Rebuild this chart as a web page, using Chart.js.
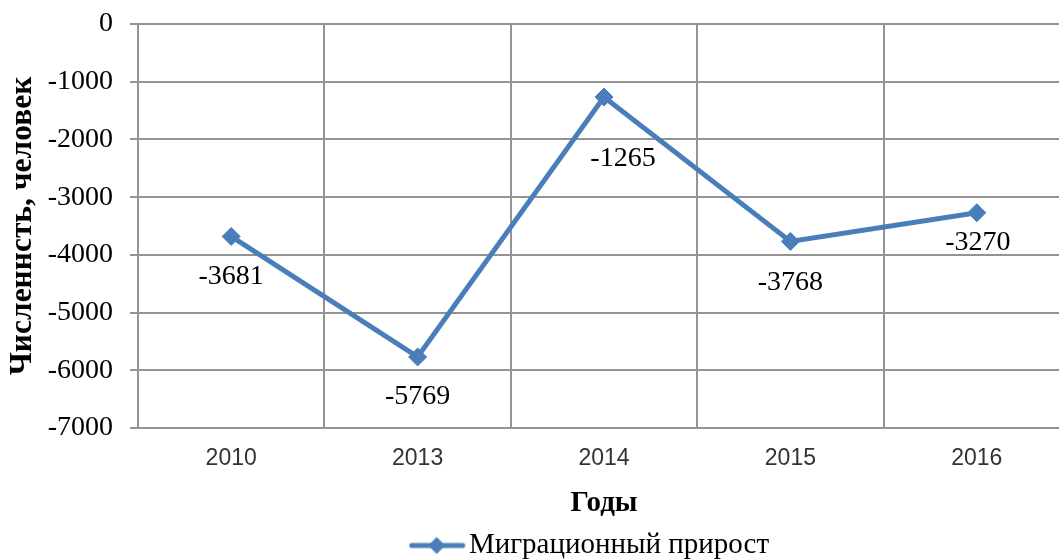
<!DOCTYPE html>
<html>
<head>
<meta charset="utf-8">
<script src="https://cdn.jsdelivr.net/npm/chart.js@4.4.1/dist/chart.umd.min.js"></script>
<style>
  html, body { margin: 0; padding: 0; background: #fff; overflow: hidden; }
  #wrap { position: relative; width: 1080px; height: 560px; }
</style>
</head>
<body>
<div id="wrap"><canvas id="chart" width="1080" height="560"></canvas></div>
<script>
const years = ["2010", "2013", "2014", "2015", "2016"];
const migration = [-3681, -5769, -1265, -3768, -3270];
const seriesName = "Миграционный прирост";
const yTitle = "Численнсть, человек";
const xTitle = "Годы";

// label nudges (dx, dy) from each point, px
const labelShift = [[0, 40], [0, 40], [19, 62], [0, 41], [1, 30]];

const blue = "#4a7ebb";
const gridColor = "#939393";
const serif = "'Liberation Serif', 'Times New Roman', serif";

// line + diamond image for the legend (symbol sits on the left of the image)
function legendSymbol() {
  const c = document.createElement("canvas");
  c.width = 76;
  c.height = 20;
  const g = c.getContext("2d");
  g.strokeStyle = blue;
  g.lineWidth = 5;
  g.lineCap = "round";
  g.beginPath();
  g.moveTo(3, 10);
  g.lineTo(54, 10);
  g.stroke();
  g.fillStyle = blue;
  g.beginPath();
  g.moveTo(28, 1.5);
  g.lineTo(36.5, 10);
  g.lineTo(28, 18.5);
  g.lineTo(19.5, 10);
  g.closePath();
  g.fill();
  return c;
}

const valueLabels = {
  id: "valueLabels",
  afterDatasetsDraw(chart) {
    const ctx = chart.ctx;
    const meta = chart.getDatasetMeta(0);
    ctx.save();
    ctx.font = "28px " + serif;
    ctx.fillStyle = "#000";
    ctx.textAlign = "center";
    ctx.textBaseline = "middle";
    meta.data.forEach((pt, i) => {
      const [dx, dy] = labelShift[i];
      ctx.fillText(String(migration[i]), pt.x + dx, pt.y + dy);
    });
    ctx.restore();
  },
};

new Chart(document.getElementById("chart"), {
  type: "line",
  data: {
    labels: years,
    datasets: [
      {
        label: seriesName,
        data: migration,
        borderColor: blue,
        backgroundColor: blue,
        borderWidth: 5,
        pointStyle: "rectRot",
        pointRadius: 9,
        pointBorderWidth: 1,
        pointHoverRadius: 9,
        tension: 0,
      },
    ],
  },
  options: {
    responsive: false,
    animation: false,
    devicePixelRatio: 1,
    layout: { padding: { top: 24, right: 9, bottom: 0, left: 0 } },
    plugins: {
      tooltip: { enabled: false },
      legend: {
        position: "bottom",
        fullSize: false,
        maxHeight: 30,
        labels: {
          usePointStyle: true,
          pointStyle: legendSymbol(),
          pointStyleWidth: 15.5,
          color: "#000",
          font: { family: serif, size: 29 },
          padding: 1,
        },
      },
    },
    scales: {
      x: {
        offset: true,
        grid: {
          offset: true,
          color: gridColor,
          lineWidth: 2,
          drawTicks: false,
        },
        border: { color: gridColor, width: 2 },
        ticks: {
          color: "#333",
          font: { family: "'Liberation Sans', Arial, sans-serif", size: 23 },
          padding: 17,
        },
        title: {
          display: true,
          text: xTitle,
          color: "#000",
          font: { family: serif, size: 29, weight: "bold" },
          padding: { top: 0, bottom: 9 },
        },
        afterFit(scale) {
          scale.height = 102;
        },
      },
      y: {
        min: -7000,
        max: 0,
        ticks: {
          stepSize: 1000,
          color: "#000",
          font: { family: serif, size: 28, lineHeight: 0.4 },
          padding: 17,
          callback: (v) => String(v),
        },
        grid: {
          color: gridColor,
          lineWidth: 2,
          tickLength: 8,
        },
        border: { color: gridColor, width: 2 },
        title: {
          display: true,
          text: yTitle,
          color: "#000",
          font: { family: serif, size: 31.5, weight: "bold" },
          padding: { top: 4, bottom: 0 },
        },
        afterFit(scale) {
          scale.width = 138;
        },
      },
    },
  },
  plugins: [valueLabels],
});
</script>
</body>
</html>
